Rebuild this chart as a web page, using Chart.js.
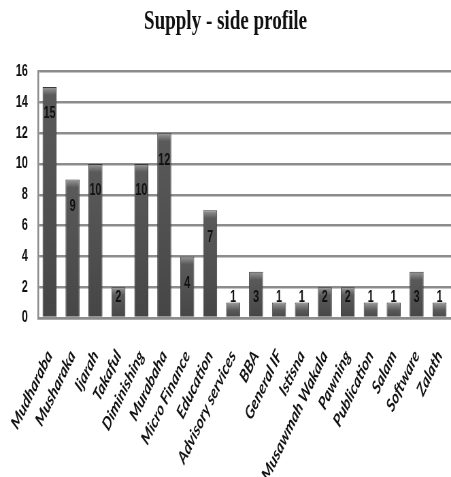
<!DOCTYPE html>
<html>
<head>
<meta charset="utf-8">
<script src="https://cdn.jsdelivr.net/npm/chart.js@4/dist/chart.umd.min.js"></script>
<style>
  html, body { margin: 0; padding: 0; background: #ffffff; }
  #chart { display: block; }
</style>
</head>
<body>
<!-- drawn on a wider canvas and shown narrower, giving the condensed look -->
<canvas id="chart" width="663" height="477" style="width:451px;height:477px;"></canvas>
<script>
const categories = [
  'Mudharaba', 'Musharaka', 'Ijarah', 'Takaful', 'Diminishing', 'Murabaha',
  'Micro Finance', 'Education', 'Advisory services', 'BBA', 'General IF',
  'Istisna', 'Musawmah Wakala', 'Pawning', 'Publication', 'Salam',
  'Software', 'Zalath'
];
const counts = [15, 9, 10, 2, 10, 12, 4, 7, 1, 3, 1, 1, 2, 2, 1, 1, 3, 1];
const yTicks = [0, 2, 4, 6, 8, 10, 12, 14, 16];

const gridColor = '#8c8c8c';

// shaded bar: lighter cap at the top fading into dark grey
function barFill(ctx) {
  const chart = ctx.chart;
  const y = chart.scales.y;
  if (!y || !chart.chartArea || ctx.raw === undefined) return '#4c4c4c';
  const top = y.getPixelForValue(ctx.raw);
  const base = y.getPixelForValue(0);
  const h = Math.max(base - top, 1);
  const g = chart.ctx.createLinearGradient(0, top, 0, base);
  g.addColorStop(0, '#9a9a9a');
  g.addColorStop(Math.min(8 / h, 0.5), '#5a5a5a');
  g.addColorStop(1, '#464646');
  return g;
}

// value printed inside each bar, just below its top
const valueLabels = {
  id: 'valueLabels',
  afterDatasetsDraw(chart) {
    const c = chart.ctx;
    const meta = chart.getDatasetMeta(0);
    c.save();
    c.font = 'bold 16px "Liberation Sans", Arial, sans-serif';
    c.fillStyle = '#111111';
    c.textAlign = 'center';
    c.textBaseline = 'middle';
    meta.data.forEach((bar, i) => {
      const y = Math.min(bar.y + 27, bar.base - 19);
      c.fillText(String(chart.data.datasets[0].data[i]), bar.x, y);
    });
    c.restore();
  }
};

new Chart(document.getElementById('chart'), {
  type: 'bar',
  data: {
    labels: categories,
    datasets: [{
      data: counts,
      backgroundColor: barFill,
      borderColor: '#3a3a3a',
      borderWidth: 1,
      categoryPercentage: 1,
      barPercentage: 0.61
    }]
  },
  options: {
    responsive: false,
    animation: false,
    devicePixelRatio: 1,
    layout: { padding: { left: 0, right: 0, top: 0, bottom: 0 } },
    plugins: {
      legend: { display: false },
      tooltip: { enabled: false },
      title: {
        display: true,
        text: 'Supply - side profile',
        color: '#111111',
        font: { family: '"Liberation Serif", "Times New Roman", serif', size: 28, weight: 'bold', lineHeight: 1.2 },
        padding: { top: 5, bottom: 33 }
      }
    },
    scales: {
      x: {
        grid: { display: false, drawTicks: false },
        border: { display: true, color: gridColor, width: 2.5 },
        ticks: {
          autoSkip: false,
          maxRotation: 55,
          minRotation: 55,
          padding: 28,
          color: '#111111',
          font: { family: 'Lato, "Open Sans", sans-serif', size: 18.5, weight: 'bold', style: 'italic' }
        },
        afterFit(axis) {
          axis.height = 159;
          axis.paddingLeft = 0;
          axis.paddingRight = 0;
        }
      },
      y: {
        min: 0,
        max: 16,
        afterBuildTicks(axis) { axis.ticks = yTicks.map(v => ({ value: v })); },
        grid: { color: gridColor, lineWidth: 2.5, drawTicks: false },
        border: { display: true, color: gridColor, width: 2.5 },
        ticks: {
          padding: 15,
          color: '#111111',
          font: { family: '"Liberation Sans", Arial, sans-serif', size: 16, weight: 'bold' }
        },
        afterFit(axis) { axis.width = 56; }
      }
    }
  },
  plugins: [valueLabels]
});
</script>
</body>
</html>
